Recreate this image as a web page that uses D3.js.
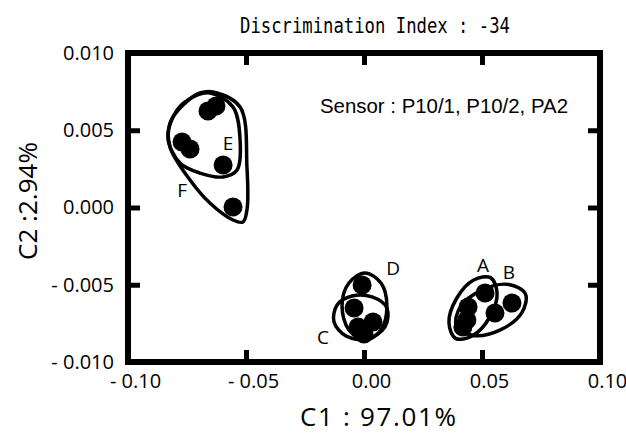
<!DOCTYPE html>
<html>
<head>
<meta charset="utf-8">
<script src="https://cdn.jsdelivr.net/npm/d3@7"></script>
<style>
  body { margin: 0; background: #fff; }
</style>
</head>
<body>
<script>
// sample scores on the first two discriminant axes
var c1 = [0.0513, 0.0627, 0.0555, 0.0441, 0.0436, 0.0419,
          -0.0008, -0.0042, -0.0025, 0.0038, 0.0000,
          -0.0661, -0.0627, -0.0771, -0.0737, -0.0597, -0.0555];
var c2 = [-0.00553, -0.00618, -0.00683, -0.00644, -0.00728, -0.00773,
          -0.00502, -0.00651, -0.00773, -0.00741, -0.00819,
          0.00625, 0.00657, 0.00424, 0.00379, 0.00275, 0.00003];

// hand-drawn group outlines, in data units
var contourA = [[0.0536,-0.00454],[0.0564,-0.00555],[0.0532,-0.00712],[0.0458,-0.00832],
                [0.0388,-0.00847],[0.0360,-0.00746],[0.0392,-0.00589],[0.0465,-0.00469]];
var contourB = [[0.0684,-0.00559],[0.0669,-0.00681],[0.0578,-0.00792],[0.0463,-0.00828],
                [0.0392,-0.00768],[0.0407,-0.00646],[0.0499,-0.00535],[0.0613,-0.00498]];
var contourC = [[-0.0114,-0.00631],[-0.0051,-0.00573],[0.0034,-0.00579],[0.0097,-0.00650],
                [0.0089,-0.00773],[0.0013,-0.00851],[-0.0076,-0.00832],[-0.0127,-0.00741]];
var contourD = [[0.0004,-0.00424],[0.0072,-0.00489],[0.0097,-0.00638],[0.0072,-0.00793],
                [0.0004,-0.00858],[-0.0064,-0.00793],[-0.0093,-0.00638],[-0.0064,-0.00489]];
var contourE = [[-0.0653,0.00741],[-0.0555,0.00650],[-0.0525,0.00437],[-0.0538,0.00243],
                [-0.0597,0.00198],[-0.0695,0.00223],[-0.0780,0.00288],[-0.0831,0.00456],
                [-0.0792,0.00631],[-0.0725,0.00715]];
var contourF = [[-0.0640,0.00748],[-0.0525,0.00650],[-0.0496,0.00262],[-0.0496,-0.00016],
                [-0.0513,-0.00094],[-0.0555,-0.00081],[-0.0653,0.00029],[-0.0737,0.00178],
                [-0.0822,0.00392],[-0.0822,0.00547],[-0.0767,0.00663],[-0.0695,0.00741]];
var contours = [contourA, contourB, contourC, contourD, contourE, contourF];

var groupNames = ["A", "B", "C", "D", "E", "F"];
var groupLabelX = [0.0504, 0.0614, -0.0174, 0.0123, -0.0576, -0.0771];
var groupLabelY = [-0.00372, -0.00417, -0.00838, -0.00392, 0.00417, 0.00113];

var xTicks = [-0.10, -0.05, 0.00, 0.05, 0.10];
var yTicks = [-0.010, -0.005, 0.000, 0.005, 0.010];

var title = "Discrimination Index : -34";
var note = "Sensor : P10/1, P10/2, PA2";
var xTitle = "C1 : 97.01%";
var yTitle = "C2 :2.94%";

var W = 626, H = 434;
var plotL = 128, plotR = 600, plotT = 53, plotB = 362;

var svg = d3.select("body").append("svg").attr("width", W).attr("height", H);

var x = d3.scaleLinear().domain([-0.10, 0.10]).range([plotL, plotR]);
var y = d3.scaleLinear().domain([-0.010, 0.010]).range([plotB, plotT]);

function fmt(n, d) {
  var s = Math.abs(n).toFixed(d);
  return n < -1e-9 ? "- " + s : s;
}

var tickFont = "'Open Sans', sans-serif";

// axes: ticks point inward, labels outside
var gx = svg.append("g").attr("transform", "translate(0," + plotB + ")")
  .call(d3.axisBottom(x).tickValues(xTicks).tickSize(-12).tickSizeOuter(0).tickPadding(12)
        .tickFormat(function(d){ return fmt(d, 2); }));
var gy = svg.append("g").attr("transform", "translate(" + plotL + ",0)")
  .call(d3.axisLeft(y).tickValues(yTicks).tickSize(-12).tickSizeOuter(0).tickPadding(14)
        .tickFormat(function(d){ return fmt(d, 3); }));
var gt = svg.append("g").attr("transform", "translate(0," + plotT + ")")
  .call(d3.axisTop(x).tickValues(xTicks).tickSize(-12).tickSizeOuter(0).tickFormat(""));
var gr = svg.append("g").attr("transform", "translate(" + plotR + ",0)")
  .call(d3.axisRight(y).tickValues(yTicks).tickSize(-12).tickSizeOuter(0).tickFormat(""));

[gx, gy, gt, gr].forEach(function(g){
  g.select(".domain").remove();
  g.selectAll(".tick line").attr("stroke", "#000").attr("stroke-width", 5);
  g.selectAll(".tick text").attr("fill", "#000").style("font-family", tickFont).style("font-size", "20px");
});
gx.selectAll(".tick text").attr("dx", 7);

svg.append("rect")
  .attr("x", plotL).attr("y", plotT)
  .attr("width", plotR - plotL).attr("height", plotB - plotT)
  .attr("fill", "none").attr("stroke", "#000").attr("stroke-width", 6);

// points
svg.append("g").selectAll("circle")
  .data(d3.range(c1.length))
  .join("circle")
  .attr("cx", function(i){ return x(c1[i]); })
  .attr("cy", function(i){ return y(c2[i]); })
  .attr("r", 9.5)
  .attr("fill", "#000");

// outlines
var line = d3.line()
  .x(function(d){ return x(d[0]); })
  .y(function(d){ return y(d[1]); })
  .curve(d3.curveCatmullRomClosed.alpha(0.5));

svg.append("g").selectAll("path")
  .data(contours)
  .join("path")
  .attr("d", line)
  .attr("fill", "none")
  .attr("stroke", "#000")
  .attr("stroke-width", 3.5);

// group letters
svg.append("g").selectAll("text")
  .data(groupNames)
  .join("text")
  .attr("x", function(d, i){ return x(groupLabelX[i]); })
  .attr("y", function(d, i){ return y(groupLabelY[i]); })
  .attr("text-anchor", "middle")
  .attr("dominant-baseline", "central")
  .style("font-family", tickFont)
  .style("font-size", "19px")
  .text(function(d){ return d; });

svg.append("text")
  .attr("x", 240).attr("y", 33)
  .attr("textLength", 270).attr("lengthAdjust", "spacingAndGlyphs")
  .style("font-family", "'DejaVu Sans Mono', monospace")
  .style("font-size", "21px")
  .text(title);

svg.append("text")
  .attr("x", 320).attr("y", 113)
  .attr("textLength", 248).attr("lengthAdjust", "spacingAndGlyphs")
  .style("font-family", "'Liberation Sans', Arial, sans-serif")
  .style("font-size", "20.5px")
  .text(note);

svg.append("text")
  .attr("x", 300).attr("y", 426)
  .attr("textLength", 156).attr("lengthAdjust", "spacing")
  .style("font-family", tickFont)
  .style("font-size", "26px")
  .text(xTitle);

svg.append("text")
  .attr("transform", "translate(37,201) rotate(-90)")
  .attr("text-anchor", "middle")
  .style("font-family", tickFont)
  .style("font-size", "26px")
  .text(yTitle);
</script>
</body>
</html>
